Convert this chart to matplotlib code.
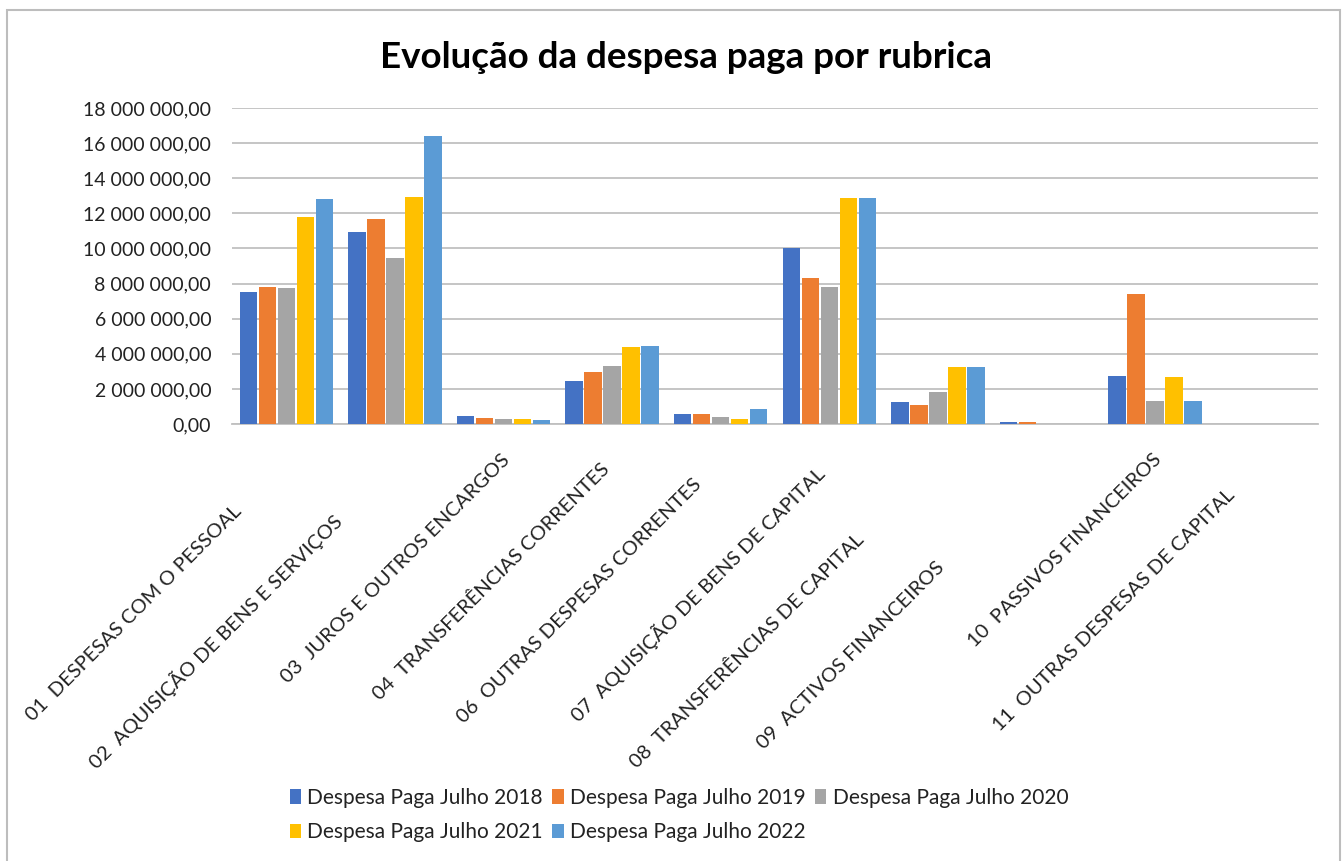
import numpy as np
import matplotlib
matplotlib.use("Agg")
import matplotlib.pyplot as plt
from matplotlib.patches import Rectangle
from matplotlib.transforms import offset_copy
from matplotlib.ticker import MultipleLocator, FuncFormatter

plt.rcParams['font.family'] = ['Lato', 'DejaVu Sans']

# Rubricas (categorias do eixo X)
rubricas = [
    "01  DESPESAS COM O PESSOAL",
    "02  AQUISIÇÃO DE BENS E SERVIÇOS",
    "03  JUROS E OUTROS ENCARGOS",
    "04  TRANSFERÊNCIAS CORRENTES",
    "06  OUTRAS DESPESAS CORRENTES",
    "07  AQUISIÇÃO DE BENS DE CAPITAL",
    "08  TRANSFERÊNCIAS DE CAPITAL",
    "09  ACTIVOS FINANCEIROS",
    "10  PASSIVOS FINANCEIROS",
    "11  OUTRAS DESPESAS DE CAPITAL",
]

series_nomes = [
    "Despesa Paga Julho 2018",
    "Despesa Paga Julho 2019",
    "Despesa Paga Julho 2020",
    "Despesa Paga Julho 2021",
    "Despesa Paga Julho 2022",
]

# valores (euros)
julho_2018 = [7540000, 10910000, 440000, 2460000, 550000, 10000000, 1240000, 100000, 2720000, 0]
julho_2019 = [7790000, 11700000, 360000, 2970000, 550000, 8290000, 1070000, 100000, 7430000, 0]
julho_2020 = [7730000, 9450000, 300000, 3300000, 420000, 7790000, 1830000, 0, 1310000, 0]
julho_2021 = [11810000, 12950000, 300000, 4380000, 290000, 12900000, 3220000, 0, 2650000, 0]
julho_2022 = [12820000, 16380000, 230000, 4440000, 860000, 12900000, 3220000, 0, 1310000, 0]

series = [julho_2018, julho_2019, julho_2020, julho_2021, julho_2022]
cores = ['#4472C4', '#ED7D31', '#A5A5A5', '#FFC000', '#5B9BD5']

# deslocamento extra (px) de cada rotulo ao longo da diagonal
desloc_rotulos = [51, 60, 0, 9, 25, 12, 80, 108, 0, 35]

W, H = 1344, 861
fig = plt.figure(figsize=(W / 100, H / 100), dpi=100)
ax = fig.add_axes([232 / W, 1 - 424 / H, (1318 - 232) / W, (424 - 108) / H])

x = np.arange(len(rubricas))
passo = 0.175
barras = []
for j, (vals, cor) in enumerate(zip(series, cores)):
    b = ax.bar(x + (j - 2) * passo, vals, width=0.16, color=cor, zorder=3)
    barras.append(b)

ax.set_xlim(-0.5, len(rubricas) - 0.5)
ax.set_ylim(0, 18000000)
ax.yaxis.set_major_locator(MultipleLocator(2000000))


def fmt_pt(v, pos):
    return f"{v:,.2f}".replace(",", " ").replace(".", ",")


ax.yaxis.set_major_formatter(FuncFormatter(fmt_pt))
ax.grid(axis='y', color='#c0c0c0', linewidth=1.3, zorder=0)
for lado in ['top', 'left', 'right']:
    ax.spines[lado].set_visible(False)
ax.spines['bottom'].set_color('#c0c0c0')
ax.spines['bottom'].set_linewidth(1.3)
ax.tick_params(axis='both', length=0)
ax.tick_params(axis='y', labelsize=14, pad=15, labelcolor='#222222')
ax.set_xticks(x)
ax.set_xticklabels([])

# rotulos do eixo X a 45 graus
for i, nome in enumerate(rubricas):
    d = desloc_rotulos[i]
    tr = offset_copy(ax.transData, fig=fig, x=-3 - d, y=-27 - d, units='dots')
    ax.text(x[i], 0, nome, transform=tr, rotation=45, rotation_mode='anchor',
            ha='right', va='top', fontsize=14.5, color='#222222', clip_on=False)

fig.text(686 / W, 1 - 58 / H, "Evolução da despesa paga por rubrica",
         ha='center', va='center', fontsize=26.5, fontweight='bold', color='black')

ordem = [0, 3, 1, 4, 2]
leg = fig.legend([barras[k] for k in ordem], [series_nomes[k] for k in ordem],
                 loc='center', bbox_to_anchor=(679 / W, 1 - 815 / H), ncol=3,
                 frameon=False, fontsize=15, handlelength=0.55, handleheight=0.7,
                 handletextpad=0.3, columnspacing=0.45, labelspacing=0.7)
for t in leg.get_texts():
    t.set_color('#222222')

# moldura do grafico
fig.patches.append(Rectangle((7 / W, -0.02), (1340 - 7) / W, 1 - 10 / H + 0.02,
                             transform=fig.transFigure, fill=False,
                             edgecolor='#bdbdbd', linewidth=1.5))

fig.savefig("out.png", dpi=100)
